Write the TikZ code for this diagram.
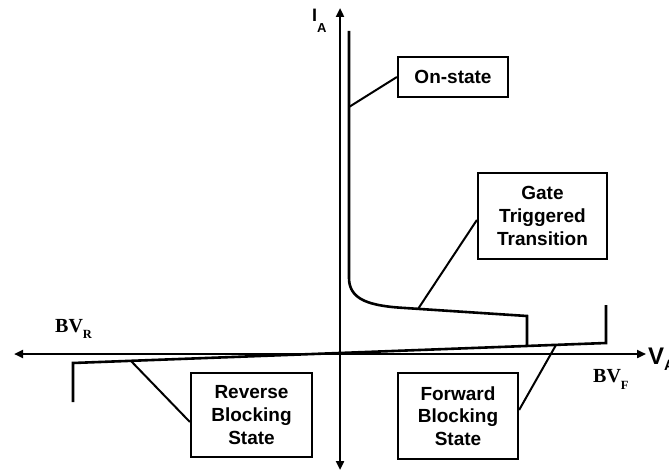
\documentclass[tikz,border=0pt]{standalone}
\usepackage{fontspec}
\setmainfont{Liberation Sans}
\newfontfamily\serifbv{Liberation Serif}
\usetikzlibrary{arrows.meta}
\begin{document}
\begin{tikzpicture}[x=1pt,y=1pt,
  axis/.style={line width=2.4pt,-{Triangle[length=9pt,width=8pt]}},
  curve/.style={line width=2.6pt,line join=miter},
  labelbox/.style={draw,line width=2.2pt,inner sep=0pt,align=center,
    font=\fontsize{19}{22.7}\selectfont\bfseries},
  conn/.style={line width=2pt},
  bvlabel/.style={anchor=base west,inner sep=0pt,font=\serifbv\fontsize{20}{20}\selectfont\bfseries}]
\useasboundingbox (0,0) rectangle (669,472);
% axes
\coordinate (O) at (340,118);
\coordinate (top) at (340,464);
\coordinate (bot) at (340,2);
\coordinate (left) at (14,118);
\coordinate (right) at (646,118);
\draw[axis] (O) -- (top);
\draw[axis] (O) -- (bot);
\draw[axis] (O) -- (left);
\draw[axis] (O) -- (right);
% characteristics
\draw[curve] (349,441) -- (349,194) .. controls (349,172) and (370,166) .. (405,164) -- (527,156) -- (527,127);
\draw[curve] (73,70) -- (73,109) -- (606,129) -- (606,167);
% points on curves
\coordinate (pOn) at (349,365);
\coordinate (pGate) at (418,163);
\coordinate (pFwd) at (556,127);
\coordinate (pRev) at (131,111);
% boxes
\node[labelbox,minimum width=110pt,minimum height=40pt] (on) at (453,395) {On-state};
\node[labelbox,minimum width=129pt,minimum height=86pt] (gate) at (542.5,256) {Gate\\Triggered\\Transition};
\node[labelbox,minimum width=120pt,minimum height=86pt] (fwd) at (458,56) {Forward\\Blocking\\State};
\node[labelbox,minimum width=121pt,minimum height=84pt] (rev) at (251.5,57) {Reverse\\Blocking\\State};
% connectors
\draw[conn] (pOn) -- (on.west);
\draw[conn] (pGate) -- ([yshift=-4pt]gate.west);
\draw[conn] (pFwd) -- ([yshift=6pt]fwd.east);
\draw[conn] (pRev) -- ([yshift=-7pt]rev.west);
% axis labels
\node[anchor=base west,inner sep=0pt,font=\fontsize{18}{18}\selectfont\bfseries] (IA) at (312,450) {I\raisebox{-11pt}{\fontsize{13}{13}\selectfont A}};
\node[anchor=base west,inner sep=0pt,font=\fontsize{24}{24}\selectfont\bfseries] (VA) at (648,108) {V\raisebox{-6pt}{\fontsize{15}{15}\selectfont A}};
\node[bvlabel] (BVR) at (55,140) {BV\raisebox{-6pt}{\fontsize{12.5}{12.5}\selectfont R}};
\node[bvlabel] (BVF) at (593,90) {BV\raisebox{-7pt}{\fontsize{12.5}{12.5}\selectfont F}};
\end{tikzpicture}
\end{document}
